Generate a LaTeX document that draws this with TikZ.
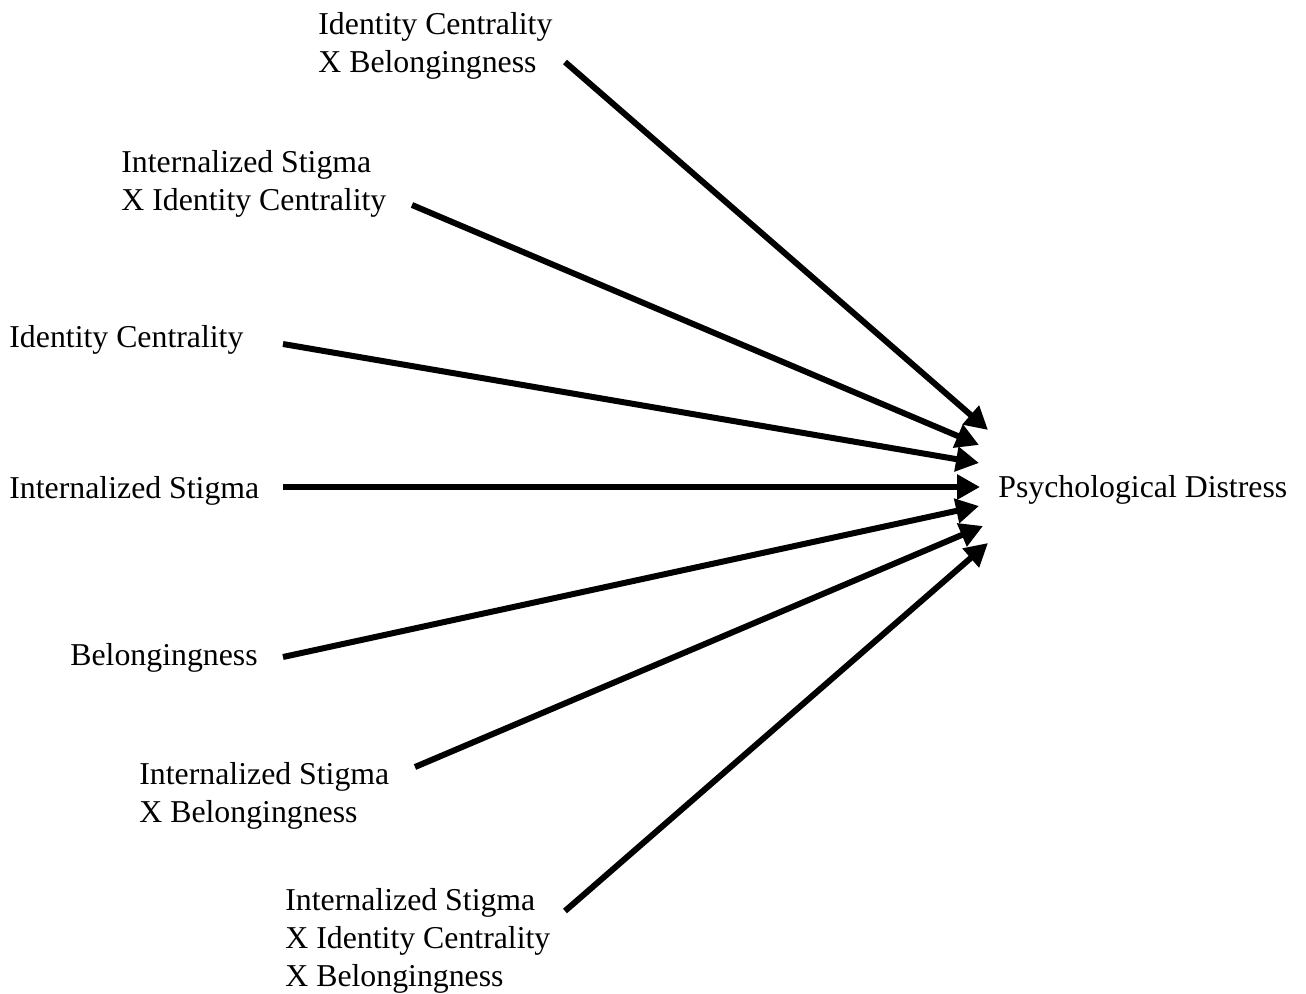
\documentclass[tikz,border=0pt]{standalone}
\usepackage{fontspec}
\setmainfont{Liberation Serif}
\usetikzlibrary{arrows.meta}
\begin{document}
\begin{tikzpicture}[x=0.5pt,y=-0.5pt,
  lbl/.style={anchor=base west,inner sep=0pt,align=left,font=\fontsize{15.9}{19}\selectfont},
  path/.style={line width=3pt,-{Triangle[length=11.5pt,width=12pt]}}]
\useasboundingbox (0,0) rectangle (1306,994);
\node[lbl] (icb) at (318,73) {Identity Centrality\\X Belongingness};
\node[lbl] (isic) at (121,211) {Internalized Stigma\\X Identity Centrality};
\node[lbl] (ic) at (9,348) {Identity Centrality};
\node[lbl] (is) at (9,498) {Internalized Stigma};
\node[lbl] (b) at (70,665) {Belongingness};
\node[lbl] (isb) at (139,822) {Internalized Stigma\\X Belongingness};
\node[lbl] (isicb) at (285,986) {Internalized Stigma\\X Identity Centrality\\X Belongingness};
\node[lbl] (pd) at (998,497) {Psychological Distress};
\coordinate (s1) at (565,62);  \coordinate (t1) at (988,430);
\coordinate (s2) at (412,205); \coordinate (t2) at (979,445);
\coordinate (s3) at (283,344); \coordinate (t3) at (979,463);
\coordinate (s4) at (283,487); \coordinate (t4) at (980,487);
\coordinate (s5) at (283,657); \coordinate (t5) at (979,506);
\coordinate (s6) at (415,767); \coordinate (t6) at (983,526);
\coordinate (s7) at (565,911); \coordinate (t7) at (988,543);
\draw[path] (s1) -- (t1);
\draw[path] (s2) -- (t2);
\draw[path] (s3) -- (t3);
\draw[path] (s4) -- (t4);
\draw[path] (s5) -- (t5);
\draw[path] (s6) -- (t6);
\draw[path] (s7) -- (t7);
\end{tikzpicture}
\end{document}
